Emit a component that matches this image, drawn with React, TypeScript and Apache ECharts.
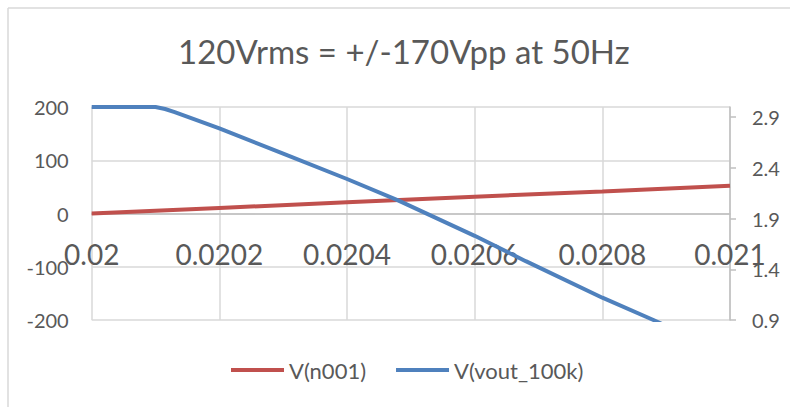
import React, { useEffect, useRef } from "react";
import * as echarts from "echarts";

const titleText = "120Vrms = +/-170Vpp at 50Hz";
const seriesNames = ["V(n001)", "V(vout_100k)"];

const timeRed = [0.02, 0.0202, 0.0204, 0.0206, 0.0208, 0.021];
const vN001 = [0, 10.5, 21, 31.5, 41.5, 52];

const timeBlue = [0.02, 0.0201, 0.020115, 0.02013, 0.0202, 0.0203, 0.0204, 0.02048, 0.0206, 0.02068, 0.0208, 0.02088, 0.021];
const vVout = [3.0, 3.0, 2.98, 2.95, 2.79, 2.54, 2.29, 2.08, 1.73, 1.48, 1.12, 0.9, 0.55];

const rightTicks = [0.9, 1.4, 1.9, 2.4, 2.9];

const FONT = "Lato";
const TEXT = "#595959";
const GRID = "#d9d9d9";
const AXIS = "#bfbfbf";

export default function App() {
  const ref = useRef<HTMLDivElement>(null);
  useEffect(() => {
    if (!ref.current) return;
    const chart = echarts.init(ref.current, null, { renderer: "svg" });
    chart.setOption({
      animation: false,
      backgroundColor: "#ffffff",
      title: {
        text: titleText,
        left: 178,
        top: 34,
        padding: 0,
        textStyle: { fontFamily: FONT, fontSize: 33, fontWeight: "normal", color: TEXT },
      },
      legend: {
        data: seriesNames,
        left: 231,
        top: 359,
        padding: 0,
        icon: "rect",
        itemWidth: 53,
        itemHeight: 4,
        itemGap: 30,
        textStyle: { fontFamily: FONT, fontSize: 22, color: TEXT },
      },
      grid: { left: 91.7, top: 107, right: 60, height: 213, containLabel: false },
      xAxis: {
        type: "value",
        min: 0.02,
        max: 0.021,
        interval: 0.0002,
        offset: -106.7,
        axisLine: { show: true, onZero: false, lineStyle: { color: AXIS, width: 1.5 } },
        axisTick: { show: false },
        axisLabel: {
          fontFamily: FONT,
          fontSize: 28,
          color: TEXT,
          margin: 27,
          showMinLabel: true,
          showMaxLabel: true,
          formatter: (v: number) => String(parseFloat(v.toFixed(6))),
        },
        splitLine: { show: true, lineStyle: { color: GRID, width: 1.5 } },
      },
      yAxis: [
        {
          type: "value",
          min: -200,
          max: 200,
          interval: 100,
          axisLine: { show: false },
          axisTick: { show: false },
          axisLabel: { fontFamily: FONT, fontSize: 20, color: TEXT, margin: 23, align: "right" },
          splitLine: { show: true, lineStyle: { color: GRID, width: 1.5 } },
        },
        {
          type: "value",
          position: "right",
          min: 0.9,
          max: 3.0,
          axisLine: { show: true, lineStyle: { color: AXIS, width: 1.5 } },
          axisTick: { show: true, length: 6, customValues: rightTicks, lineStyle: { color: AXIS, width: 1.5 } },
          axisLabel: {
            fontFamily: FONT,
            fontSize: 20,
            color: TEXT,
            margin: 22,
            customValues: rightTicks,
            formatter: (v: number) => v.toFixed(1),
          },
          splitLine: { show: false },
        },
      ],
      graphic: [
        { type: "line", shape: { x1: 8, y1: 8, x2: 790, y2: 8 }, style: { stroke: GRID, lineWidth: 1.5 }, silent: true },
        { type: "line", shape: { x1: 8, y1: 8, x2: 8, y2: 407 }, style: { stroke: GRID, lineWidth: 1.5 }, silent: true },
      ],
      series: [
        {
          name: seriesNames[0],
          type: "line",
          yAxisIndex: 0,
          showSymbol: false,
          clip: true,
          color: "#C0504D",
          lineStyle: { color: "#C0504D", width: 4 },
          data: timeRed.map((t, i) => [t, vN001[i]]),
        },
        {
          name: seriesNames[1],
          type: "line",
          yAxisIndex: 1,
          showSymbol: false,
          clip: true,
          color: "#4F81BD",
          lineStyle: { color: "#4F81BD", width: 4 },
          data: timeBlue.map((t, i) => [t, vVout[i]]),
        },
      ],
    });
    return () => chart.dispose();
  }, []);
  return <div ref={ref} style={{ position: "absolute", left: 0, top: 0, width: 790, height: 407 }} />;
}
